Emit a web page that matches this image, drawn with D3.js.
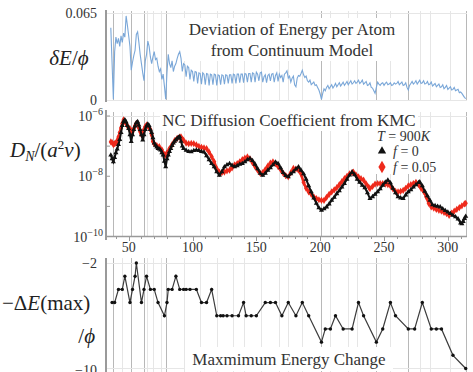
<!DOCTYPE html>
<html>
<head>
<meta charset="utf-8">
<script src="https://d3js.org/d3.v7.min.js"></script>
<style>
  body { margin: 0; background: #fff; }
  svg { display: block; font-family: "Liberation Serif", "DejaVu Serif", serif; }
</style>
</head>
<body>
<div id="chart-area"></div>
<script>
const chartSize = { width: 473, height: 372 };

// cluster sizes N marked with the darker vertical lines, and the faint ones
const shellLines = [38, 52, 62, 79, 201, 244, 269, 314];
const minorLines = [45, 64, 69, 75, 93, 106, 119, 132, 140, 154, 168, 175, 186, 208, 222, 229, 255, 278, 286, 302];
const xTicks = [50, 100, 150, 200, 250, 300];

// deviation of energy per atom from continuum model, [N, dE/phi]
const deviation = [
    [36, 0.054], [38, 0.000], [39, 0.036], [40, 0.047], [41, 0.042], [42, 0.046], [43, 0.040], [44, 0.048],
    [45, 0.043], [46, 0.050], [47, 0.047], [48, 0.063], [49, 0.056], [50, 0.048], [51, 0.040], [52, 0.022],
    [53, 0.028], [54, 0.033], [55, 0.037], [56, 0.049], [57, 0.051], [58, 0.043], [59, 0.034], [60, 0.027],
    [61, 0.020], [62, 0.014], [63, 0.029], [64, 0.034], [65, 0.044], [66, 0.040], [67, 0.032], [68, 0.027],
    [69, 0.032], [70, 0.036], [71, 0.030], [72, 0.031], [73, 0.025], [74, 0.021], [75, 0.023], [76, 0.015],
    [77, 0.019], [78, 0.010], [79, 0.000], [80, 0.020], [81, 0.034], [82, 0.027], [83, 0.024], [84, 0.029],
    [85, 0.021], [86, 0.025], [87, 0.027], [88, 0.031], [89, 0.034], [90, 0.036], [91, 0.031], [92, 0.021],
    [93, 0.027], [94, 0.026], [95, 0.017], [96, 0.025], [97, 0.024], [98, 0.015], [99, 0.022], [100, 0.021],
    [101, 0.0135], [102, 0.021], [103, 0.0205], [104, 0.012], [105, 0.020], [106, 0.0195], [107, 0.0115],
    [108, 0.020], [109, 0.019], [110, 0.011], [111, 0.0195], [112, 0.019], [113, 0.0105], [114, 0.019],
    [115, 0.0185], [116, 0.011], [117, 0.019], [118, 0.0185], [119, 0.0105], [120, 0.0185], [121, 0.018],
    [122, 0.011], [123, 0.0185], [124, 0.018], [125, 0.0115], [126, 0.0185], [127, 0.018], [128, 0.012],
    [129, 0.0185], [130, 0.0185], [131, 0.012], [132, 0.019], [133, 0.0185], [134, 0.012], [135, 0.019],
    [136, 0.019], [137, 0.0125], [138, 0.019], [139, 0.019], [140, 0.0125], [141, 0.0195], [142, 0.019],
    [143, 0.013], [144, 0.0195], [145, 0.0195], [146, 0.013], [147, 0.020], [148, 0.0195], [149, 0.013],
    [150, 0.0205], [151, 0.019], [152, 0.014], [153, 0.020], [154, 0.0205], [155, 0.013], [156, 0.017],
    [157, 0.0185], [158, 0.0125], [159, 0.018], [160, 0.019], [161, 0.014], [162, 0.019], [163, 0.0195],
    [164, 0.013], [165, 0.018], [166, 0.020], [167, 0.0135], [168, 0.019], [169, 0.0165], [170, 0.018],
    [171, 0.013], [172, 0.019], [173, 0.020], [174, 0.0215], [175, 0.016], [176, 0.0175], [177, 0.013],
    [178, 0.016], [179, 0.0175], [180, 0.011], [181, 0.0095], [182, 0.016], [183, 0.018], [184, 0.0175],
    [185, 0.0195], [186, 0.022], [187, 0.0185], [188, 0.0165], [189, 0.0175], [190, 0.014], [191, 0.013],
    [192, 0.0145], [193, 0.011], [194, 0.012], [195, 0.013], [196, 0.0105], [197, 0.011], [198, 0.009],
    [199, 0.007], [200, 0.004], [201, 0.000], [202, 0.0045], [203, 0.008], [204, 0.0065], [205, 0.009],
    [206, 0.0105], [207, 0.008], [208, 0.0095], [209, 0.011], [210, 0.0085], [211, 0.010], [212, 0.012],
    [213, 0.0095], [214, 0.011], [215, 0.0125], [216, 0.010], [217, 0.0115], [218, 0.013], [219, 0.0105],
    [220, 0.012], [221, 0.0135], [222, 0.011], [223, 0.0125], [224, 0.014], [225, 0.0115], [226, 0.0125],
    [227, 0.014], [228, 0.012], [229, 0.013], [230, 0.0145], [231, 0.012], [232, 0.013], [233, 0.0145],
    [234, 0.0115], [235, 0.0125], [236, 0.0135], [237, 0.0105], [238, 0.011], [239, 0.0125], [240, 0.009],
    [241, 0.0085], [242, 0.0065], [243, 0.0045], [244, 0.009], [245, 0.013], [246, 0.0115], [247, 0.0105],
    [248, 0.012], [249, 0.0125], [250, 0.0105], [251, 0.012], [252, 0.013], [253, 0.011], [254, 0.0115],
    [255, 0.0125], [256, 0.0105], [257, 0.011], [258, 0.0125], [259, 0.0115], [260, 0.012], [261, 0.0135],
    [262, 0.011], [263, 0.012], [264, 0.013], [265, 0.0105], [266, 0.011], [267, 0.0125], [268, 0.009],
    [269, 0.007], [270, 0.0105], [271, 0.012], [272, 0.0135], [273, 0.0115], [274, 0.0125], [275, 0.014],
    [276, 0.0115], [277, 0.013], [278, 0.0145], [279, 0.012], [280, 0.0125], [281, 0.014], [282, 0.0115],
    [283, 0.012], [284, 0.0135], [285, 0.011], [286, 0.0115], [287, 0.013], [288, 0.010], [289, 0.011],
    [290, 0.012], [291, 0.0095], [292, 0.0105], [293, 0.0115], [294, 0.009], [295, 0.0095], [296, 0.011],
    [297, 0.008], [298, 0.009], [299, 0.0105], [300, 0.0075], [301, 0.0085], [302, 0.0095], [303, 0.007],
    [304, 0.0075], [305, 0.009], [306, 0.0065], [307, 0.007], [308, 0.0075], [309, 0.005], [310, 0.0055],
    [311, 0.0045], [312, 0.003], [313, 0.0015], [314, 0.0005]
];

// KMC diffusion coefficient, stored as log10(D_N/(a^2 nu)), f = 0
const diffusionF0 = [
    [36, -7.30], [37, -7.42], [38, -7.52], [39, -7.38], [40, -7.22], [41, -7.10], [42, -6.95], [43, -6.78],
    [44, -6.55], [45, -6.32], [46, -6.18], [47, -6.13], [48, -6.20], [49, -6.32], [50, -6.42], [51, -6.62],
    [52, -6.85], [53, -6.62], [54, -6.45], [55, -6.33], [56, -6.22], [57, -6.19], [58, -6.30], [59, -6.45],
    [60, -6.62], [61, -6.80], [62, -6.62], [63, -6.45], [64, -6.33], [65, -6.27], [66, -6.32], [67, -6.45],
    [68, -6.55], [69, -6.72], [70, -6.90], [71, -6.97], [72, -7.03], [73, -7.08], [74, -7.10], [75, -7.13],
    [76, -7.22], [77, -7.30], [78, -7.50], [79, -7.69], [80, -7.42], [81, -7.30], [82, -7.18], [83, -7.08],
    [84, -6.98], [85, -6.90], [86, -6.84], [87, -6.79], [88, -6.74], [89, -6.71], [90, -6.69], [91, -6.84],
    [92, -7.00], [93, -7.08], [95, -7.14], [97, -7.18], [99, -7.19], [101, -7.15], [103, -7.13], [105, -7.15],
    [107, -7.18], [109, -7.20], [111, -7.32], [113, -7.45], [115, -7.58], [117, -7.69], [119, -7.85], [121, -7.97],
    [123, -7.85], [125, -7.69], [127, -7.62], [129, -7.58], [131, -7.64], [133, -7.69], [135, -7.65], [137, -7.60],
    [139, -7.58], [141, -7.52], [143, -7.45], [145, -7.41], [147, -7.48], [149, -7.60], [151, -7.75], [153, -7.90],
    [155, -7.97], [157, -7.90], [159, -7.80], [161, -7.72], [163, -7.62], [165, -7.53], [167, -7.58], [169, -7.72],
    [171, -7.88], [173, -7.98], [175, -8.02], [177, -7.92], [179, -7.85], [181, -7.76], [183, -7.69], [185, -7.80],
    [187, -7.92], [189, -8.10], [191, -8.32], [193, -8.52], [195, -8.72], [197, -8.90], [199, -9.05], [201, -9.13],
    [203, -9.08], [205, -9.02], [207, -8.92], [209, -8.80], [211, -8.70], [213, -8.58], [215, -8.48], [217, -8.36],
    [219, -8.24], [221, -8.10], [223, -7.96], [225, -7.86], [227, -7.95], [229, -8.10], [231, -8.20], [233, -8.30],
    [235, -8.38], [237, -8.55], [239, -8.74], [241, -8.68], [243, -8.60], [245, -8.52], [247, -8.42], [249, -8.30],
    [251, -8.20], [253, -8.13], [255, -8.22], [257, -8.40], [259, -8.55], [261, -8.68], [263, -8.72], [265, -8.74],
    [267, -8.62], [269, -8.52], [271, -8.45], [273, -8.36], [275, -8.28], [277, -8.21], [278, -8.19], [280, -8.32],
    [282, -8.50], [284, -8.65], [286, -8.80], [288, -8.95], [290, -8.98], [292, -9.00], [294, -9.02], [296, -9.08],
    [298, -9.14], [300, -9.19], [302, -9.24], [304, -9.30], [306, -9.35], [308, -9.42], [310, -9.55], [311, -9.58],
    [312, -9.50], [313, -9.40], [314, -9.33]
];

// same, f = 0.05
const diffusionF005 = [
    [36, -6.86], [37, -6.88], [38, -6.95], [39, -6.92], [40, -6.90], [41, -6.82], [42, -6.70], [43, -6.55],
    [44, -6.40], [45, -6.25], [46, -6.13], [47, -6.18], [48, -6.25], [49, -6.33], [50, -6.40], [51, -6.42],
    [52, -6.50], [53, -6.52], [54, -6.42], [55, -6.32], [56, -6.25], [57, -6.24], [58, -6.40], [59, -6.52],
    [60, -6.62], [61, -6.55], [62, -6.45], [63, -6.35], [64, -6.30], [65, -6.33], [66, -6.38], [67, -6.45],
    [68, -6.62], [69, -6.85], [70, -6.92], [72, -6.98], [74, -7.02], [76, -7.12], [78, -7.28], [79, -7.30],
    [80, -7.22], [82, -7.08], [84, -6.95], [86, -6.82], [88, -6.74], [90, -6.70], [91, -6.69], [93, -6.80],
    [95, -6.90], [97, -6.92], [99, -6.91], [101, -6.92], [103, -6.96], [105, -7.01], [107, -7.04], [109, -7.06],
    [111, -7.08], [113, -7.20], [115, -7.35], [117, -7.52], [119, -7.75], [121, -7.86], [123, -7.88], [125, -7.86],
    [127, -7.82], [129, -7.80], [131, -7.72], [133, -7.62], [135, -7.58], [137, -7.52], [139, -7.45], [141, -7.40],
    [143, -7.36], [145, -7.42], [147, -7.55], [149, -7.68], [151, -7.80], [153, -7.90], [155, -7.88], [157, -7.78],
    [159, -7.66], [161, -7.56], [163, -7.52], [165, -7.58], [167, -7.68], [169, -7.78], [171, -7.90], [173, -7.98],
    [175, -8.02], [177, -7.88], [179, -7.74], [181, -7.76], [183, -7.80], [185, -7.92], [187, -8.20], [189, -8.40],
    [191, -8.52], [193, -8.60], [195, -8.68], [197, -8.74], [199, -8.78], [201, -8.80], [203, -8.80], [205, -8.70],
    [207, -8.60], [209, -8.52], [211, -8.45], [213, -8.38], [215, -8.28], [217, -8.18], [219, -8.08], [221, -8.00],
    [223, -7.92], [225, -7.88], [226, -7.86], [228, -7.95], [230, -8.02], [232, -8.08], [234, -8.13], [236, -8.25],
    [238, -8.36], [239, -8.41], [241, -8.34], [243, -8.26], [245, -8.24], [247, -8.24], [249, -8.24], [251, -8.26],
    [253, -8.28], [255, -8.32], [257, -8.42], [259, -8.50], [261, -8.52], [263, -8.50], [265, -8.47], [267, -8.40],
    [269, -8.32], [271, -8.28], [273, -8.24], [275, -8.20], [277, -8.28], [279, -8.40], [281, -8.50], [283, -8.68],
    [285, -8.90], [287, -9.02], [289, -9.06], [291, -9.10], [293, -9.13], [295, -9.16], [297, -9.20], [299, -9.24],
    [301, -9.30], [303, -9.22], [305, -9.16], [307, -9.10], [309, -9.04], [311, -8.98], [313, -8.92], [314, -8.90]
];

// maximum energy change, [N, -dE(max)/phi]
const maxEnergyChange = [
    [37, -5], [39, -5], [42, -4], [45, -4], [47, -3], [51, -5], [53, -4], [55, -3], [56, -2], [60, -5],
    [62, -4], [64, -3], [67, -4], [70, -4], [73, -5], [78, -6], [80, -5], [81, -4], [84, -4], [87, -3],
    [90, -4], [93, -4], [95, -4], [98, -4], [103, -4], [107, -5], [111, -5], [115, -4], [119, -6], [122, -6],
    [124, -6], [127, -6], [131, -6], [136, -6], [140, -5], [142, -6], [146, -6], [150, -6], [157, -5], [161, -5],
    [165, -5], [170, -6], [175, -5], [181, -6], [186, -5], [191, -6], [201, -8], [204, -7], [208, -7], [212, -6],
    [218, -7], [225, -7], [230, -5], [234, -6], [244, -8], [249, -7], [255, -5], [259, -6], [269, -7], [274, -7],
    [280, -5], [287, -7], [291, -7], [295, -7], [304, -9], [314, -10]
];

const x = d3.scaleLinear().domain([32, 315]).range([105.7, 467]);
const yDev = d3.scaleLinear().domain([0, 0.065]).range([99.3, 13.3]);
const yDiff = d3.scaleLog().domain([1e-10, 1e-6]).range([236.5, 116]);
const yMax = d3.scaleLinear().domain([-10, -2]).range([368.5, 263]);
const px = d => Math.round(x(d)) + 0.5;
const diffLine = d3.line().x(d => x(d[0])).y(d => yDiff(10 ** d[1]));

const svg = d3
    .select("#chart-area")
    .append("svg")
    .attr("width", chartSize.width)
    .attr("height", chartSize.height);

const drawGrid = function(top, bottom) {
    const g = svg.append("g").attr("class", "grid");
    g.selectAll(".minor")
        .data(minorLines)
        .join("line")
        .attr("class", "minor")
        .attr("x1", px).attr("x2", px)
        .attr("y1", top).attr("y2", bottom)
        .attr("stroke", "#e6e6e6");
    g.selectAll(".shell")
        .data(shellLines)
        .join("line")
        .attr("class", "shell")
        .attr("x1", px).attr("x2", px)
        .attr("y1", top).attr("y2", bottom)
        .attr("stroke", "#b8b8b8");
    return g;
};

const hLine = function(y, x1, x2, color, w) {
    svg.append("line")
        .attr("x1", x1).attr("x2", x2)
        .attr("y1", y).attr("y2", y)
        .attr("stroke", color)
        .attr("stroke-width", w || 1);
};

const vAxis = function(top, bottom) {
    svg.append("line")
        .attr("x1", 106).attr("x2", 106)
        .attr("y1", top).attr("y2", bottom)
        .attr("stroke", "#9a9a9a")
        .attr("stroke-width", 2);
};

const whiteBox = function(x0, y0, w, h) {
    svg.append("rect")
        .attr("x", x0).attr("y", y0)
        .attr("width", w).attr("height", h)
        .attr("fill", "#fff");
};

const label = function(x0, y0, str, size, anchor) {
    return svg.append("text")
        .attr("x", x0).attr("y", y0)
        .attr("font-size", size)
        .attr("text-anchor", anchor || "middle")
        .attr("fill", "#333")
        .text(str);
};

// ---- panel 1: deviation of energy ----
drawGrid(11, 101);
hLine(13.5, 106, 467, "#e6e6e6");
hLine(100.5, 106, 467, "#e6e6e6");
whiteBox(183, 18, 224, 43);
vAxis(10, 102);
label(97, 18, "0.065", 14, "end");
label(97, 105, "0", 14, "end");
label(292, 35, "Deviation of Energy per Atom", 17);
label(292, 56, "from Continuum Model", 17);
svg.append("path")
    .attr("d", d3.line().x(d => x(d[0])).y(d => yDev(d[1]))(deviation))
    .attr("fill", "none")
    .attr("stroke", "#7aa7d8")
    .attr("stroke-width", 1.1);
const dLabel = svg.append("text")
    .attr("x", 69).attr("y", 65)
    .attr("font-size", 21)
    .attr("text-anchor", "middle")
    .attr("fill", "#222");
dLabel.append("tspan").attr("font-style", "italic").text("δE");
dLabel.append("tspan").text("/");
dLabel.append("tspan").attr("font-style", "italic").text("ϕ");

// ---- panel 2: diffusion coefficient ----
drawGrid(112, 236);
hLine(116.5, 106, 467, "#e6e6e6");
whiteBox(160, 110, 258, 21);
whiteBox(373, 128, 72, 46);
vAxis(110, 240);
hLine(236.5, 106, 467, "#9a9a9a", 1.5);
svg.append("g")
    .selectAll("line")
    .data(d3.range(40, 315, 10))
    .join("line")
    .attr("x1", px).attr("x2", px)
    .attr("y1", 236).attr("y2", d => (d % 50 === 0 ? 241 : 239))
    .attr("stroke", "#9a9a9a");
svg.append("g")
    .selectAll("line")
    .data([1e-6, 1e-7, 1e-8, 1e-9, 1e-10])
    .join("line")
    .attr("x1", 106).attr("x2", 110)
    .attr("y1", d => yDiff(d)).attr("y2", d => yDiff(d))
    .attr("stroke", "#9a9a9a");
[[-6, 1e-6], [-8, 1e-8], [-10, 1e-10]].forEach(([p, v]) => {
    const t = label(103, yDiff(v) + 5, "10", 14, "end");
    t.append("tspan").attr("dy", -6).attr("font-size", 10).text("−" + Math.abs(p));
});
svg.append("g")
    .selectAll("text")
    .data(xTicks)
    .join("text")
    .attr("x", d => x(d))
    .attr("y", 252)
    .attr("font-size", 14)
    .attr("text-anchor", "middle")
    .attr("fill", "#333")
    .text(d => d);
label(289, 126, "NC Diffusion Coefficient from KMC", 17);

// red (f = 0.05) first, black (f = 0) on top
svg.append("path")
    .attr("d", diffLine(diffusionF005))
    .attr("fill", "none")
    .attr("stroke", "#ee2a1c")
    .attr("stroke-width", 2.6);
svg.append("g")
    .selectAll("path")
    .data(diffusionF005)
    .join("path")
    .attr("transform", d => `translate(${x(d[0])},${yDiff(10 ** d[1])})`)
    .attr("d", d3.symbol(d3.symbolDiamond, 15))
    .attr("fill", "#ee2a1c");
svg.append("path")
    .attr("d", diffLine(diffusionF0))
    .attr("fill", "none")
    .attr("stroke", "#111")
    .attr("stroke-width", 2);
svg.append("g")
    .selectAll("path")
    .data(diffusionF0)
    .join("path")
    .attr("transform", d => `translate(${x(d[0])},${yDiff(10 ** d[1])})`)
    .attr("d", d3.symbol(d3.symbolTriangle, 11))
    .attr("fill", "#111");

const tLabel = label(377, 141, "", 14, "start");
tLabel.append("tspan").attr("font-style", "italic").text("T");
tLabel.append("tspan").text(" = 900");
tLabel.append("tspan").attr("font-style", "italic").text("K");
svg.append("path")
    .attr("transform", "translate(382,151)")
    .attr("d", d3.symbol(d3.symbolTriangle, 30))
    .attr("fill", "#111");
svg.append("path")
    .attr("transform", "translate(382,167)")
    .attr("d", d3.symbol(d3.symbolDiamond, 45))
    .attr("fill", "#ee2a1c");
const f0 = label(393, 156, "", 14, "start");
f0.append("tspan").attr("font-style", "italic").text("f");
f0.append("tspan").text(" = 0");
const f1 = label(393, 172, "", 14, "start");
f1.append("tspan").attr("font-style", "italic").text("f");
f1.append("tspan").text(" = 0.05");

const nLabel = svg.append("text")
    .attr("x", 10).attr("y", 157)
    .attr("font-size", 21)
    .attr("fill", "#222");
nLabel.append("tspan").attr("font-style", "italic").text("D");
nLabel.append("tspan").attr("font-style", "italic").attr("font-size", 14).attr("dy", 4).text("N");
nLabel.append("tspan").attr("dy", -4).text("/(");
nLabel.append("tspan").attr("font-style", "italic").text("a");
nLabel.append("tspan").attr("font-size", 13).attr("dy", -8).text("2");
nLabel.append("tspan").attr("font-style", "italic").attr("dy", 8).text("ν");
nLabel.append("tspan").text(")");

// ---- panel 3: maximum energy change ----
drawGrid(258, 372);
hLine(263.5, 106, 467, "#e6e6e6");
hLine(368.5, 106, 467, "#e6e6e6");
whiteBox(185, 347, 208, 24);
vAxis(258, 372);
label(97, 268, "−2", 14, "end");
label(97, 375, "−10", 14, "end");
label(289, 365, "Maxmimum Energy Change", 17);
svg.append("path")
    .attr("d", d3.line().x(d => x(d[0])).y(d => yMax(d[1]))(maxEnergyChange))
    .attr("fill", "none")
    .attr("stroke", "#3c3c3c")
    .attr("stroke-width", 1.2);
svg.append("g")
    .selectAll("circle")
    .data(maxEnergyChange)
    .join("circle")
    .attr("cx", d => x(d[0]))
    .attr("cy", d => yMax(d[1]))
    .attr("r", 1.7)
    .attr("fill", "#111");
const eLabel = svg.append("text")
    .attr("x", 2).attr("y", 310)
    .attr("font-size", 21)
    .attr("fill", "#222");
eLabel.append("tspan").text("−Δ");
eLabel.append("tspan").attr("font-style", "italic").text("E");
eLabel.append("tspan").text("(max)");
const phiLabel = label(95, 343, "", 21, "end");
phiLabel.attr("fill", "#222");
phiLabel.append("tspan").text("/");
phiLabel.append("tspan").attr("font-style", "italic").text("ϕ");
</script>
</body>
</html>
